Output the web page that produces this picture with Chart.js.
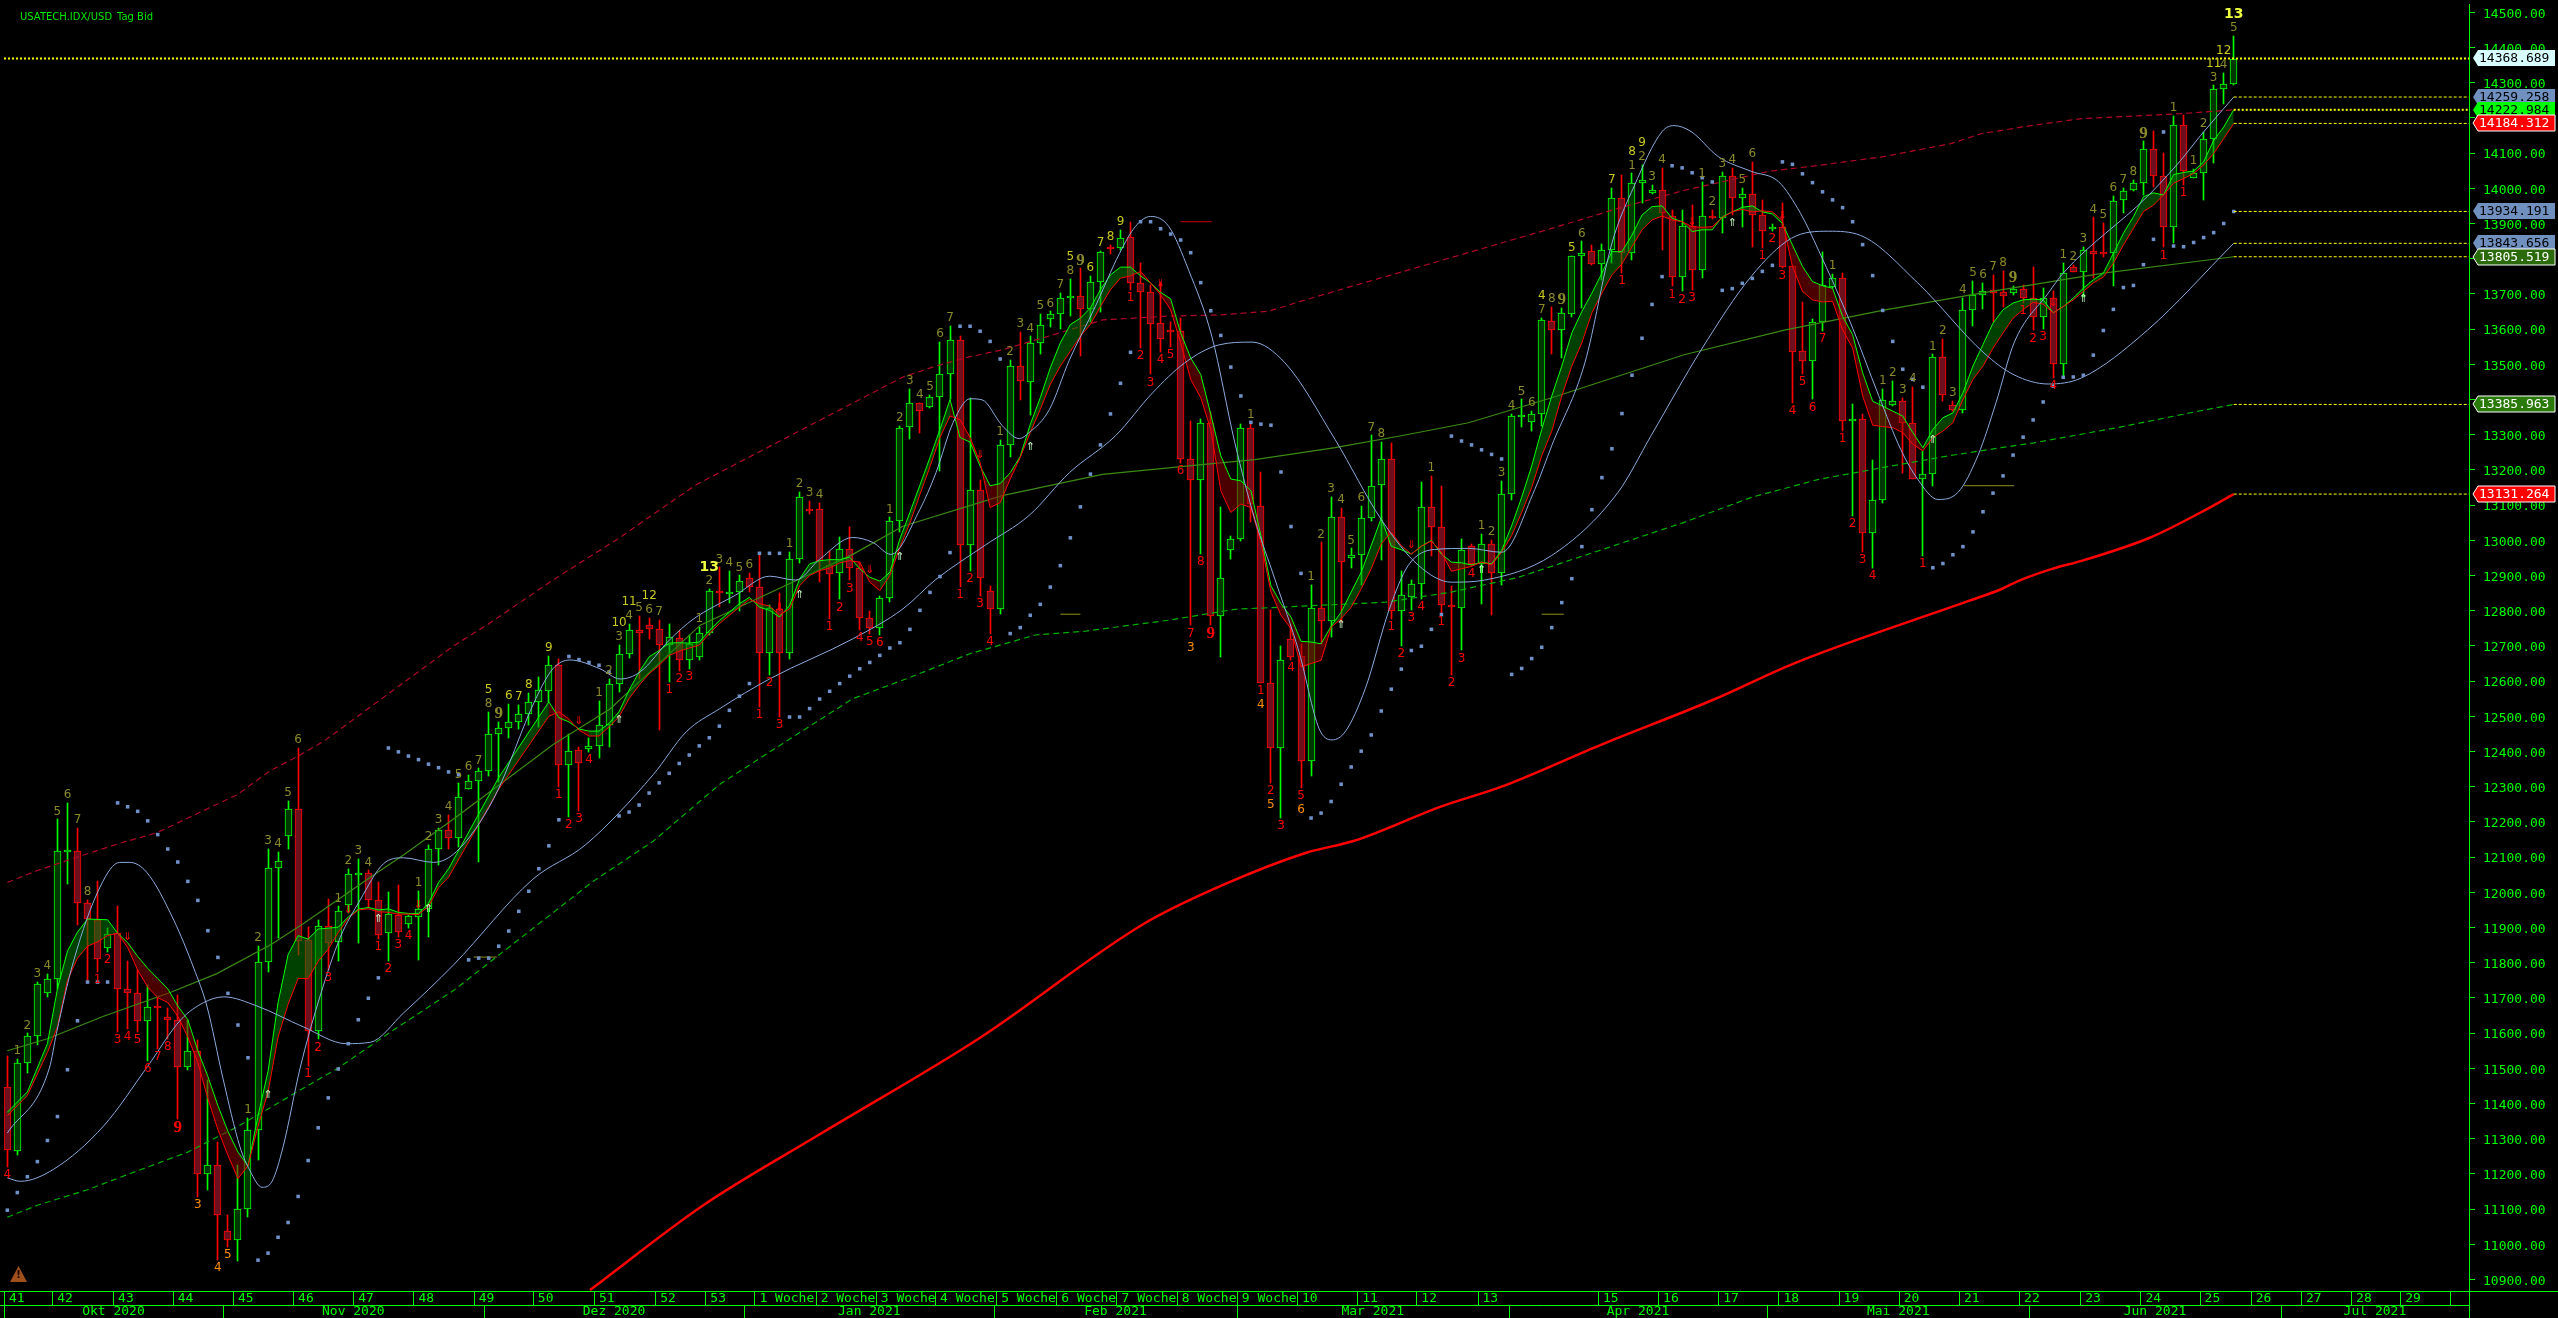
<!DOCTYPE html>
<html>
<head>
<meta charset="utf-8">
<title>USATECH.IDX/USD Tag Bid</title>
<style>
html, body { margin: 0; background: #000; overflow: hidden; }
canvas { display: block; }
</style>
<script src="https://cdn.jsdelivr.net/npm/chart.js@4"></script>
</head>
<body>
<canvas id="priceChart" width="2558" height="1318"></canvas>
<script>
// candles, index = trading day
const opens = [11448,11265,11514,11591,11713,11753,12115,12118,11969,11921,
11843,11884,11725,11713,11633,11677,11647,11638,11503,11549,
11201,11224,11039,11011,11099,11325,11801,12070,12160,12238,
11864,11606,11903,11858,11965,12051,12055,11979,11884,11936,
11909,11931,11954,12124,12177,12154,12293,12316,12345,12449,
12466,12483,12506,12540,12573,12645,12362,12404,12406,12415,
12475,12591,12678,12744,12758,12747,12702,12723,12659,12669,
12738,12857,12849,12852,12893,12866,12681,12804,12681,12947,
13089,13089,12930,12908,12976,12922,12780,12752,12837,13054,
13322,13389,13379,13406,13471,13568,12987,13143,12855,12804,
13271,13495,13451,13560,13630,13642,13687,13693,13658,13735,
13832,13830,13863,13732,13704,13616,13598,13594,13230,13171,
13334,12784,12973,13004,13318,13098,12596,12411,12719,12670,
12373,12809,12770,13067,12951,12959,13064,13158,13231,12798,
12838,12877,13095,13039,12815,12809,12985,12933,12990,12908,
13132,13355,13337,13358,13622,13598,13644,13808,13823,13785,
13825,13973,13817,14016,13986,13996,13922,13749,13893,13769,
13922,13916,14035,13972,13985,13924,13888,13891,13778,13537,
13508,13619,13719,13744,13338,13344,13021,13115,13383,13395,
13333,13174,13188,13520,13385,13370,13655,13696,13710,13704,
13702,13715,13687,13635,13687,13502,13775,13762,13823,13818,
13815,13967,13995,14016,14112,14036,13891,14180,14029,14044,
14140,14282,14296];
const highs = [11535,11526,11599,11745,11767,12207,12254,12184,11979,12031,
11898,11960,11804,11779,11736,11701,11672,11708,11638,11580,
11467,11292,11082,11224,11360,11848,12124,12114,12260,12410,
11901,11921,11981,11960,12067,12096,12062,12030,12002,12020,
11936,12004,12135,12184,12221,12310,12333,12352,12513,12484,
12536,12532,12566,12612,12671,12662,12450,12414,12439,12544,
12607,12703,12763,12784,12779,12773,12761,12742,12730,12755,
12862,12923,12914,12900,12907,12961,12815,12851,12968,13138,
13112,13106,12971,13008,13037,12938,12798,12841,13065,13326,
13430,13391,13414,13563,13608,13579,13405,13172,12870,13285,
13513,13591,13579,13643,13650,13702,13742,13773,13751,13822,
13839,13882,13905,13787,13726,13735,13619,13631,13339,13345,
13364,13096,13011,13331,13334,13194,12801,12700,12763,12706,
12872,12994,13122,13093,12977,13098,13298,13280,13277,12914,
12886,13166,13183,13155,12870,13004,12989,13018,13001,13169,
13358,13400,13367,13631,13663,13660,13809,13849,13839,13842,
14002,14037,14042,14066,14009,14059,13938,13938,13952,14018,
13938,14047,14059,14000,14075,13968,13899,13959,13780,13676,
13629,13820,13756,13759,13386,13360,13228,13430,13452,13405,
13436,13254,13528,13572,13397,13688,13738,13731,13754,13766,
13723,13726,13776,13716,13707,13789,13781,13834,13917,13902,
13978,14002,14023,14133,14162,14101,14206,14209,14054,14160,
14292,14327,14432];
const lows = [11219,11253,11487,11565,11704,11726,12023,11908,11745,11775,
11831,11604,11611,11604,11521,11555,11584,11355,11494,11134,
11155,10955,10993,10953,11077,11240,11775,11870,12123,11821,
11506,11582,11779,11806,11940,11855,11955,11867,11804,11872,
11899,11809,11874,12077,12124,12129,12293,12086,12329,12314,
12439,12464,12475,12470,12541,12300,12215,12231,12398,12382,
12414,12568,12666,12607,12720,12461,12598,12628,12634,12661,
12732,12810,12822,12798,12853,12527,12617,12497,12662,12936,
13076,12881,12777,12832,12886,12746,12735,12732,12824,13023,
13289,13306,13377,13197,13400,12867,12914,12843,12733,12791,
13238,13398,13355,13528,13606,13600,13636,13523,13619,13648,
13813,13825,13710,13546,13471,13535,13549,13219,12758,12961,
12758,12669,12947,12999,13051,12596,12310,12211,12659,12296,
12329,12706,12725,12768,12922,12872,13056,12945,12777,12700,
12801,12834,12956,12791,12618,12687,12928,12820,12788,12874,
13115,13323,13310,13325,13530,13518,13634,13660,13782,13740,
13787,13759,13795,13959,13985,13825,13721,13707,13712,13745,
13913,13874,13924,13889,13832,13830,13880,13773,13389,13473,
13400,13594,13716,13310,13068,12966,12922,13106,13381,13190,
13174,12956,13155,13397,13367,13362,13610,13657,13620,13663,
13697,13674,13596,13601,13461,13461,13762,13691,13745,13804,
13723,13929,13993,13981,14004,13832,13844,14009,14028,13967,
14072,14240,14292];
const closes = [11267,11516,11592,11739,11753,12116,12121,11969,11925,11810,
11882,11725,11713,11633,11675,11672,11636,11504,11549,11201,
11224,11084,11011,11099,11325,11801,12070,12090,12238,11862,
11606,11903,11855,11948,12051,12054,11979,11880,11937,11886,
11932,11953,12124,12177,12154,12270,12316,12345,12450,12467,
12483,12506,12540,12574,12645,12362,12401,12366,12415,12475,
12591,12678,12744,12737,12747,12702,12724,12659,12706,12738,
12857,12849,12852,12883,12866,12681,12807,12681,12947,13124,
13088,12942,12905,12976,12921,12779,12752,12837,13056,13320,
13391,13366,13408,13471,13568,12988,13143,12893,12804,13271,
13495,13452,13560,13611,13642,13687,13693,13658,13735,13820,
13831,13860,13732,13704,13615,13571,13594,13230,13172,13333,
12784,12893,13004,13318,13103,12596,12409,12659,12669,12373,
12809,12770,13067,12937,12959,13064,13155,13231,12798,12845,
12877,13095,13039,12815,12812,12973,12933,12990,12908,13132,
13353,13357,13360,13625,13598,13645,13809,13817,13785,13825,
13973,13817,14016,14024,13996,13929,13749,13894,13769,13922,
13915,14035,13972,13985,13924,13880,13890,13776,13536,13508,
13619,13725,13744,13338,13344,13021,13115,13398,13395,13332,
13174,13188,13520,13414,13370,13655,13696,13709,13703,13695,
13714,13687,13635,13687,13502,13759,13763,13824,13814,13814,
13965,13993,14016,14112,14035,13891,14180,14048,14044,14140,
14282,14296,14367];

// parabolic dots, one per candle
const sarValues = [11097,11147,11192,11235,11295,11363,11496,11635,11745,11745,
11745,12254,12243,12230,12203,12164,12123,12086,12031,11977,
11891,11815,11713,11623,11530,10955,10975,11020,11062,11136,
11238,11331,11416,11498,11570,11638,11699,11757,12410,12399,
12387,12377,12364,12354,12342,12334,11808,11813,11813,11847,
11890,11946,12003,12067,12132,12206,12670,12661,12653,12645,
12626,12217,12228,12248,12282,12311,12338,12366,12390,12416,
12439,12472,12517,12557,12593,12963,12963,12963,12498,12498,
12522,12549,12571,12593,12614,12635,12653,12673,12694,12709,
12747,12801,12852,12897,12965,13608,13608,13594,13565,13515,
12735,12752,12787,12818,12867,12928,13007,13095,13188,13271,
13359,13446,13534,13905,13905,13885,13870,13853,13817,13732,
13652,13582,13492,13410,13335,13330,13327,13194,13039,12906,
12211,12225,12258,12307,12356,12401,12447,12515,12577,12634,
12687,12699,12747,12789,13296,13282,13271,13257,13244,13231,
12619,12636,12664,12696,12752,12823,12891,12982,13087,13178,
13260,13360,13469,13574,13670,13749,14064,14058,14044,14030,
14018,13710,13715,13730,13744,13764,13781,14075,14068,14041,
14016,13990,13967,13945,13905,13840,13752,13653,13565,13486,
13457,13435,12922,12934,12959,12982,13024,13081,13134,13183,
13242,13293,13342,13393,13438,13463,13464,13469,13526,13596,
13656,13718,13724,13783,13855,14160,13836,13834,13846,13860,
13874,13900,13934];

// fast / slow band, read at these candles
const bandK = [0,2,4,5,6,7,8,9,10,11,12,13,14,15,16,17,18,19,20,21,22,23,24,25,26,27,28,29,30,31,32,33,34,35,36,37,38,39,40,41,42,43,44,49,
54,55,56,57,58,59,60,61,62,63,64,65,66,67,68,69,70,71,72,73,74,75,76,77,78,79,80,81,82,83,84,85,86,87,88,89,
90,91,92,93,94,95,96,97,98,99,100,101,102,103,104,105,106,107,108,109,110,111,112,113,114,115,116,117,118,119,120,
121,122,123,124,125,126,127,128,129,130,131,132,133,134,135,136,137,138,139,140,141,142,143,144,145,146,147,148,149,150,151,152,153,
154,155,156,157,158,159,160,161,162,163,164,165,166,167,168,169,170,171,172,173,174,175,176,177,178,179,180,181,182,183,184,185,186,187,188,189,190,191,192,193,194,195,196,
197,198,199,200,201,202,203,204,205,206,207,208,209,210,211,212,213,214,215,216,217,218,219,220,221,222];
const bandFast = [11375,11433,11570,11726,11833,11887,11924,11923,11922,11884,11857,11818,11784,11755,11726,11677,11638,11550,11477,11394,11321,11262,11223,11365,11492,11687,11823,11877,11867,11896,11898,11901,11930,11952,11957,11950,11953,11943,11940,11940,11969,12028,12067,12326,
12541,12496,12484,12464,12458,12458,12480,12513,12574,12626,12669,12687,12708,12709,12708,12711,12744,12772,12796,12820,12838,12810,12801,12782,12815,12890,12933,12942,12945,12945,12952,12919,12895,12884,12909,13004,
13079,13157,13235,13315,13400,13292,13279,13211,13155,13161,13192,13238,13329,13405,13490,13561,13613,13631,13660,13712,13754,13776,13776,13751,13731,13704,13686,13589,13518,13471,13358,
13240,13174,13169,13141,13013,12871,12820,12782,12713,12711,12706,12756,12796,12853,12909,12985,13063,12983,12973,12961,12983,13000,12961,12938,12936,12930,12938,12933,12971,13041,13122,13211,13315,
13410,13495,13589,13650,13702,13759,13820,13820,13867,13924,13948,13950,13915,13905,13877,13882,13882,13919,13933,13946,13950,13933,13927,13900,13839,13778,13735,13723,13716,13636,13584,13476,13395,13381,13367,13353,13306,13263,13315,13348,13362,13419,13495,
13556,13617,13655,13674,13683,13685,13683,13646,13664,13688,13716,13740,13759,13815,13872,13919,13976,13987,13981,14039,14045,14049,14075,14136,14174,14223];
const bandSlow = [11365,11423,11545,11618,11750,11813,11847,11859,11877,11884,11843,11779,11731,11701,11687,11648,11589,11516,11414,11326,11253,11187,11223,11336,11433,11589,11682,11755,11755,11804,11838,11886,11926,11950,11953,11945,11943,11938,11938,11937,11960,12013,12043,12293,
12500,12513,12492,12461,12444,12444,12470,12499,12550,12588,12621,12645,12673,12685,12694,12702,12735,12763,12787,12810,12832,12820,12813,12788,12805,12871,12900,12914,12921,12936,12942,12938,12881,12857,12900,12980,
13049,13130,13209,13292,13353,13343,13292,13221,13093,13107,13174,13235,13306,13372,13443,13495,13537,13580,13613,13664,13712,13745,13751,13764,13731,13697,13655,13561,13457,13405,13315,
13141,13079,13103,13093,12994,12853,12787,12749,12640,12650,12659,12753,12777,12810,12862,12919,12990,13023,12985,12961,12983,12998,12966,12912,12919,12926,12938,12930,12966,13013,13079,13150,13240,
13310,13410,13495,13561,13646,13702,13754,13785,13834,13882,13910,13921,13910,13905,13891,13889,13891,13917,13933,13940,13933,13936,13933,13908,13778,13707,13683,13677,13679,13598,13546,13410,13327,13323,13320,13306,13273,13254,13292,13310,13334,13400,13457,
13495,13546,13589,13631,13655,13676,13671,13646,13664,13683,13707,13731,13748,13787,13839,13886,13934,13952,13981,14014,14028,14042,14066,14099,14141,14184];
const bandRegimeStart = [0,11,24,54,58,84,87,94,101,113,132,140,147,165,171,177,191,204,205];
const bandRegimeEnd = [11,24,54,58,84,87,94,101,113,132,140,147,165,171,177,191,204,205,222];
const bandRegimeUp = [1,0,1,0,1,0,1,0,1,0,1,0,1,0,1,0,1,0,1];

// moving averages and channels
const redMaK = [58.1,69.4,80.8,97,113.3,121.4,129.6,134.4,143,149,158.9,170.1,178.3,195.5,198.8,200.5,203.8,207,213.7,218.7,222];
const redMaV = [10870,11111,11309,11587,11910,12023,12113,12147,12244,12300,12419,12547,12652,12827,12861,12884,12918,12943,13008,13079,13131.264];
const upperK = [0,3,7.6,11.3,14.9,18.9,22.9,26.2,28.8,31.5,44.5,47.8,54.4,61.1,64.4,68.7,89.3,92.6,95.9,99.2,104.2,109.2,115.8,120.8,125.8,129.1,134.1,139,154,160.6,167.2,175.6,180.6,187.1,193.8,196.8,201.8,206.8,216.7,222];
const upperV = [12028,12062,12106,12140,12169,12223,12277,12345,12384,12428,12700,12759,12887,13008,13074,13158,13464,13495,13521,13541,13583,13626,13637,13640,13651,13680,13722,13762,13886,13943,13994,14048,14065,14090,14127,14155,14178,14198,14212,14223];
const lowerK = [0,3,8,13,18,23,28,33,38,44.5,58.4,64.4,71,77.6,84.3,89.6,95.9,102.5,107.5,115.8,122.4,129.1,137.4,144,150.7,159.7,167.2,173.9,180.6,187.1,193.8,198.8,202.1,210.4,218.7,222];
const lowerV = [11077,11111,11155,11209,11262,11335,11418,11501,11599,11721,12031,12145,12306,12428,12550,12606,12677,12731,12742,12773,12804,12813,12824,12853,12895,12980,13051,13122,13173,13207,13241,13263,13277,13320,13368,13385.963];
const midK = [0,4,9.6,16.3,20.9,26.3,29.5,36.2,39.5,44.5,49.5,54.4,60.1,69.1,78.3,84.3,89.3,99.2,109.2,119.1,124.4,132.4,139,145.7,154,167.2,177.2,187.1,196.8,209,222];
const midV = [11550,11584,11648,11716,11769,11852,11911,12043,12106,12208,12315,12419,12521,12759,12881,12960,13040,13127,13187,13215,13229,13263,13297,13334,13405,13527,13597,13654,13702,13759,13805.519];
const slowK = [0,1.3,4.6,9.6,14,17.3,19.6,21.6,24.9,29.5,33.8,36.2,39.5,44.5,52.4,57.7,64.4,67.7,71,76,84.3,89.3,92.6,97.5,101.9,105.9,110.5,114.2,117.4,120.8,124.1,127.4,132.4,137,140.7,144,147.3,154,160.6,163.9,168.9,173.9,177.9,181.6,184.8,190.5,197.1,200.1,203.5,206.8,213.4,222];
const slowV = [11189,11179,11213,11336,11506,11638,11687,11703,11677,11618,11570,11574,11657,11794,12037,12136,12334,12456,12521,12606,12720,12805,12889,12986,13071,13192,13297,13419,13504,13555,13563,13504,13286,13059,12929,12881,12887,12957,13136,13297,13541,13750,13858,13878,13866,13731,13532,13470,13444,13461,13597,13843.656];
const fastK = [0,4.2,4.9,6.6,9.3,11.2,12.2,13.9,16.6,18.6,19.9,21.5,23.2,24.2,25.4,26.4,27.5,29.2,31.2,33.2,35.2,37.5,39.5,42.5,44.8,48.5,52.7,54.4,56.1,59.1,61.1,63.1,66.1,68.4,72.6,76,78.6,81,84.3,86.3,88.1,91,92.6,94.3,96,97.2,99.2,100.9,101.9,103.9,105.9,108.5,110.9,112.5,114,115.8,117.8,120.1,122.4,124.4,126.4,128.8,130.8,132.1,133.4,135.4,137.8,139.7,142.3,145.7,149,152.3,154,157.3,160,162.2,165,166.2,167.9,170.6,173.9,176.6,178.8,180.6,183.8,186.6,188.8,190.5,192.5,194.5,196.5,198.3,200.1,203.5,205,213.4,216.7,218.7,222];
const fastV = [11316,11501,11599,11804,12018,12085,12085,12057,11921,11784,11677,11472,11277,11209,11162,11179,11277,11501,11706,11872,11979,12081,12098,12085,12116,12266,12550,12635,12660,12635,12606,12626,12719,12776,12844,12898,12887,12946,13008,12994,12960,13088,13192,13334,13402,13399,13326,13289,13306,13371,13512,13665,13815,13892,13920,13892,13767,13580,13277,13059,12889,12683,12465,12433,12456,12578,12804,12929,12974,12977,12966,13144,13269,13504,13844,14005,14161,14178,14161,14090,14048,14019,13929,13824,13617,13411,13258,13173,13116,13136,13241,13391,13561,13702,13759,13977,14079,14150,14259.258];

// short horizontal markers
const markerFrom = [46.5,105,153,195.1,117];
const markerTo = [48.8,107,155.2,200.1,120.1];
const markerValue = [11816,12790,12790,13155,13905];
const markerColor = ['#909020','#909020','#909020','#909020','#d00000'];

// price tags at the right edge
const levelValues = [14368.689,14259.258,14222.984,14184.312,13934.191,13843.656,13805.519,13385.963,13131.264];
const levelBg = ['#d8ffff','#7090c0','#00ff00','#ff0000','#7090c0','#7090c0','#2a6a0a','#2a7a0a','#ff0000'];
const levelFg = ['#000','#000','#000','#fff','#000','#000','#fff','#fff','#fff'];
const levelEdge = [0,0,0,1,0,0,1,1,1];
const levelThick = [1,0,1,0,0,0,0,0,0];

const priceTicks = [14500,14400,14300,14200,14100,14000,13900,13800,13700,13600,13500,13400,13300,13200,13100,13000,12900,12800,12700,12600,12500,12400,12300,12200,12100,12000,11900,11800,11700,11600,11500,11400,11300,11200,11100,11000,10900];

// count labels over the candles
const countUpK = [1,2,3,4,5,6,7,8,24,25,26,27,28,29,33,34,35,36,41,42,43,44,45,46,47,48,49,59,60,61,62,63,64,65,69,70,71,72,73,74,78,79,80,81,88,89,90,91,92,93,94,99,100,101,102,103,104,105,106,107,124,130,131,132,133,134,135,136,137,142,147,148,149,150,151,152,153,154,155,157,162,163,164,165,169,170,171,172,173,174,182,187,188,189,190,192,193,194,195,196,197,198,199,200,205,206,207,208,209,210,211,212,213,216,218,219,220,221,222];
const countUpText = ['1','2','3','4','5','6','7','8','1','2','3','4','5','6','1','2','3','4','1','2','3','4','5','6','7','8','9','1','2','3','4','5','6','7','1','2','3','4','5','6','1','2','3','4','1','2','3','4','5','6','7','1','2','3','4','5','6','7','8','9','1','1','2','3','4','5','6','7','8','1','1','2','3','4','5','6','7','8','9','6','1','2','3','4','1','2','3','4','5','6','1','1','2','3','4','1','2','3','4','5','6','7','8','9','1','2','3','4','5','6','7','8','9','1','1','2','3','4','5'];
const countHotK = [48,50,51,52,54,61,62,64,70,106,108,109,110,111,153,156,160,162,163,220,221,222];
const countHotText = ['5','6','7','8','9','10','11','12','13','5','6','7','8','9','4','5','7','8','9','11','12','13'];
const countHotRow = [1,0,0,0,0,1,1,1,1,1,0,0,0,0,1,0,0,1,1,1,1,1];
const countDownK = [0,9,10,11,12,13,14,15,16,17,30,31,32,37,38,39,40,55,56,57,58,66,67,68,75,76,77,82,83,84,85,86,87,95,96,97,98,112,113,114,115,116,117,118,119,120,125,126,127,128,129,138,139,140,141,143,144,145,146,161,166,167,168,175,176,177,178,179,180,181,183,184,185,186,191,201,202,203,204,215,217];
const countDownText = ['4','1','2','3','4','5','6','7','8','9','1','2','3','1','2','3','4','1','2','3','4','1','2','3','1','2','3','1','2','3','4','5','6','1','2','3','4','1','2','3','4','5','6','7','8','9','1','2','3','4','5','1','2','3','4','1','2','3','4','1','1','2','3','1','2','3','4','5','6','7','1','2','3','4','1','1','2','3','4','1','1'];
const countOrangeK = [19,21,22,118,125,126,129];
const countOrangeText = ['3','4','5','3','4','5','6'];
const countOrangeRow = [0,0,0,1,1,1,1];
const bigNineK = [17,49,107,120,155,200,213];

// small arrows
const arrowUpK = [26,37,42,61,79,89,102,133,147,172,192,207];
const arrowUpV = [11423,11923,11953,12489,12845,12952,13266,12758,12916,13902,13284,13685];
const arrowDownK = [12,34,41,57,77,86,97,115,140,168,177,204];
const arrowDownV = [11872,11948,11964,12487,12807,12914,13242,13728,12985,13905,13922,13674];

// bottom axis, positions in candle units
const weekK = [-0.33,4.48,10.55,16.5,22.5,28.5,34.5,40.5,46.5,52.4,58.5,64.6,69.6,74.5,80.6,86.6,92.5,98.6,104.6,110.6,116.6,122.6,128.6,134.6,140.5,146.6,158.6,164.6,170.6,176.6,182.6,188.6,194.6,200.6,206.7,212.7,218.6,223.7,228.7,233.7,238.6,243.6];
const weekText = ['41','42','43','44','45','46','47','48','49','50','51','52','53','1 Woche','2 Woche','3 Woche','4 Woche','5 Woche','6 Woche','7 Woche','8 Woche','9 Woche','10','11','12','13','15','16','17','18','19','20','21','22','23','24','25','26','27','28','29',''];
const monthK = [-0.33,21.5,47.5,73.5,98.4,122.6,149.7,175.5,201.6,226.7,245.46];
const monthText = ['Okt 2020','Nov 2020','Dez 2020','Jan 2021','Feb 2021','Mär 2021','Apr 2021','Mai 2021','Jun 2021','Jul 2021'];

const GREEN = '#00ff00';
const RED = '#ff0000';
const MONO = '13px "DejaVu Sans Mono", monospace';

function pts(xs, ys) {
    return xs.map((x, i) => ({ x: x, y: ys[i] }));
}

function lineSet(xs, ys, color, width, dash, order, smooth) {
    return {
        type: 'line', data: pts(xs, ys), borderColor: color, borderWidth: width,
        borderDash: dash, pointRadius: 0, fill: false, order: order,
        cubicInterpolationMode: smooth ? 'monotone' : 'default', tension: 0
    };
}

const isUp = closes.map((c, i) => c >= opens[i]);
const datasets = [];

// wicks and bodies are floating bars
datasets.push({
    type: 'bar', order: 20, barThickness: 1, borderWidth: 0,
    data: highs.map((h, i) => ({ x: i, y: [lows[i], h] })),
    backgroundColor: isUp.map(u => u ? GREEN : RED)
});
datasets.push({
    type: 'bar', order: 19, barThickness: 7, borderWidth: 1, borderSkipped: false,
    data: opens.map((o, i) => ({ x: i, y: [o, closes[i]] })),
    backgroundColor: isUp.map(u => u ? '#003800' : '#6e0f1e'),
    borderColor: isUp.map(u => u ? GREEN : RED)
});

// band pieces, green going up and red going down
bandRegimeStart.forEach((start, r) => {
    const keep = bandK.map((k, i) => i).filter(i => bandK[i] >= start && bandK[i] <= bandRegimeEnd[r]);
    const fillColor = bandRegimeUp[r] ? 'rgba(0,128,0,0.5)' : 'rgba(150,0,0,0.5)';
    datasets.push({
        type: 'line', order: 10, pointRadius: 0, borderColor: GREEN, borderWidth: 1, tension: 0,
        data: keep.map(i => ({ x: bandK[i], y: bandFast[i] })),
        fill: { target: '+1', above: fillColor, below: fillColor }
    });
    datasets.push({
        type: 'line', order: 9, pointRadius: 0, borderColor: RED, borderWidth: 1, tension: 0, fill: false,
        data: keep.map(i => ({ x: bandK[i], y: bandSlow[i] }))
    });
});

datasets.push(lineSet(upperK, upperV, '#b00828', 1.2, [6, 4], 12));
datasets.push(lineSet(lowerK, lowerV, '#00b000', 1.2, [6, 4], 12));
datasets.push(lineSet(midK, midV, '#3c8a14', 1.2, [], 12));
datasets.push(lineSet(slowK, slowV, '#8aaadc', 1, [], 6, true));
datasets.push(lineSet(fastK, fastV, '#8aaadc', 1, [], 6, true));
datasets.push(lineSet(redMaK, redMaV, RED, 2.5, [], 5, true));

// parabolic dots
datasets.push({
    type: 'line', order: 4, showLine: false, pointStyle: 'rect', pointRadius: 2.5, pointBorderWidth: 0,
    pointBackgroundColor: '#7090c8', data: sarValues.map((v, i) => ({ x: i, y: v }))
});

markerValue.forEach((v, i) => {
    datasets.push(lineSet([markerFrom[i], markerTo[i]], [v, v], markerColor[i], 1, [], 8));
});

// dotted level lines out to the axis
levelValues.forEach((v, i) => {
    const from = i === 0 ? -0.33 : 222;
    datasets.push(lineSet([from, 245.46], [v, v], '#ffff00', levelThick[i] ? 2 : 1, levelThick[i] ? [2, 2] : [3, 2], 3));
});

// keep candles on whole pixels, the original is not antialiased
const snapBars = {
    id: 'snapBars',
    afterDatasetsUpdate(chart) {
        [0, 1].forEach(idx => {
            chart.getDatasetMeta(idx).data.forEach(el => {
                el.x = Math.floor(el.x) + 0.5;
                el.y = Math.round(el.y);
                el.base = Math.round(el.base);
                if (Math.abs(el.base - el.y) < 2) el.base = el.y + 2;
            });
        });
    }
};

function drawLabel(ctx, text, x, y, color, font) {
    ctx.fillStyle = color;
    ctx.font = font;
    ctx.fillText(text, x, y);
}

const annotations = {
    id: 'annotations',
    afterDatasetsDraw(chart) {
        const ctx = chart.ctx, xs = chart.scales.x, ys = chart.scales.y;
        ctx.save();
        ctx.textAlign = 'center';
        ctx.textBaseline = 'middle';
        const smallFont = '12px "DejaVu Sans", sans-serif';
        const nineFont = 'bold 17px "Liberation Serif", serif';
        countUpK.forEach((k, i) => {
            const big = bigNineK.includes(k) && countUpText[i] === '9';
            drawLabel(ctx, countUpText[i], xs.getPixelForValue(k), ys.getPixelForValue(highs[k]) - 8, '#8a8a2a', big ? nineFont : smallFont);
        });
        countHotK.forEach((k, i) => {
            const big = countHotText[i] === '13';
            drawLabel(ctx, countHotText[i], xs.getPixelForValue(k), ys.getPixelForValue(highs[k]) - 8 - countHotRow[i] * 14,
                big ? '#f0ff40' : '#c8c820', big ? 'bold 14px "DejaVu Sans", sans-serif' : smallFont);
        });
        countDownK.forEach((k, i) => {
            const big = bigNineK.includes(k) && countDownText[i] === '9';
            drawLabel(ctx, countDownText[i], xs.getPixelForValue(k), ys.getPixelForValue(lows[k]) + 8, RED, big ? nineFont : smallFont);
        });
        countOrangeK.forEach((k, i) => {
            drawLabel(ctx, countOrangeText[i], xs.getPixelForValue(k), ys.getPixelForValue(lows[k]) + 8 + countOrangeRow[i] * 14, '#ff8c00', smallFont);
        });
        const arrowFont = '11px "DejaVu Sans", sans-serif';
        arrowUpK.forEach((k, i) => {
            drawLabel(ctx, '⇑', xs.getPixelForValue(k), ys.getPixelForValue(arrowUpV[i]), '#c8ffc8', arrowFont);
        });
        arrowDownK.forEach((k, i) => {
            drawLabel(ctx, '⇓', xs.getPixelForValue(k), ys.getPixelForValue(arrowDownV[i]), RED, arrowFont);
        });
        ctx.restore();
    },
    afterDraw(chart) {
        const ctx = chart.ctx, xs = chart.scales.x, ys = chart.scales.y;
        const right = chart.chartArea.right, axisTop = chart.chartArea.bottom;
        ctx.save();

        // title
        ctx.textAlign = 'left';
        ctx.textBaseline = 'middle';
        drawLabel(ctx, 'USATECH.IDX/USD', 20, 17.5, '#00e800', '10px "DejaVu Sans", sans-serif');
        drawLabel(ctx, 'Tag Bid', 117, 17.5, '#00e800', '10px "DejaVu Sans", sans-serif');

        // warning triangle
        ctx.fillStyle = '#a0501a';
        ctx.beginPath();
        ctx.moveTo(18.5, 1266);
        ctx.lineTo(27, 1282);
        ctx.lineTo(10, 1282);
        ctx.closePath();
        ctx.fill();
        ctx.textAlign = 'center';
        drawLabel(ctx, '!', 18.5, 1275.5, '#200800', 'bold 11px "DejaVu Sans", sans-serif');

        // week and month rows
        ctx.strokeStyle = GREEN;
        ctx.lineWidth = 1;
        ctx.beginPath();
        ctx.moveTo(0, axisTop + 0.5); ctx.lineTo(2558, axisTop + 0.5);
        ctx.moveTo(0, axisTop + 14.5); ctx.lineTo(right, axisTop + 14.5);
        ctx.moveTo(right + 0.5, axisTop); ctx.lineTo(right + 0.5, 1318);
        weekK.forEach(k => {
            const px = Math.round(xs.getPixelForValue(k)) + 0.5;
            ctx.moveTo(px, axisTop); ctx.lineTo(px, axisTop + 14);
        });
        monthK.forEach(k => {
            const px = Math.round(xs.getPixelForValue(k)) + 0.5;
            ctx.moveTo(px, axisTop + 14); ctx.lineTo(px, 1318);
        });
        ctx.stroke();
        ctx.textAlign = 'left';
        weekText.forEach((t, i) => {
            drawLabel(ctx, t, xs.getPixelForValue(weekK[i]) + 5, axisTop + 8, GREEN, MONO);
        });
        ctx.textAlign = 'center';
        monthText.forEach((t, i) => {
            const mid = (xs.getPixelForValue(monthK[i]) + xs.getPixelForValue(monthK[i + 1])) / 2;
            drawLabel(ctx, t, mid, axisTop + 21, GREEN, MONO);
        });

        // price tags
        ctx.textAlign = 'left';
        levelValues.forEach((v, i) => {
            const y = Math.round(ys.getPixelForValue(v));
            ctx.beginPath();
            ctx.moveTo(2473, y);
            ctx.lineTo(2478, y - 8);
            ctx.lineTo(2555, y - 8);
            ctx.lineTo(2555, y + 8);
            ctx.lineTo(2478, y + 8);
            ctx.closePath();
            ctx.fillStyle = levelBg[i];
            ctx.fill();
            if (levelEdge[i]) {
                ctx.strokeStyle = '#fff';
                ctx.lineWidth = 1;
                ctx.stroke();
            }
            drawLabel(ctx, v.toFixed(3), 2479, y + 1, levelFg[i], MONO);
        });
        ctx.restore();
    }
};

const priceCtx = document.getElementById('priceChart').getContext('2d');
const priceChart = new Chart(priceCtx, {
    type: 'bar',
    data: { datasets: datasets },
    plugins: [snapBars, annotations],
    options: {
        responsive: false,
        devicePixelRatio: 1,
        animation: false,
        events: [],
        layout: { padding: { left: 0, right: 0, top: 0, bottom: 27 } },
        datasets: { bar: { grouped: false } },
        plugins: { legend: { display: false }, tooltip: { enabled: false }, title: { display: false } },
        scales: {
            x: {
                type: 'linear', display: false, offset: false,
                min: -0.3285, max: 245.46
            },
            y: {
                type: 'linear', position: 'right',
                min: 10867.4, max: 14523.5,
                grid: { drawOnChartArea: false, color: GREEN, tickLength: 6 },
                border: { display: true, color: GREEN },
                afterBuildTicks: scale => { scale.ticks = priceTicks.map(v => ({ value: v })); },
                afterFit: scale => { scale.width = 89; scale.paddingTop = 0; scale.paddingBottom = 0; },
                ticks: {
                    color: GREEN, padding: 8, labelOffset: 2, autoSkip: false, align: 'center',
                    font: { family: '"DejaVu Sans Mono", monospace', size: 13 },
                    callback: v => Number(v).toFixed(2)
                }
            }
        }
    }
});
</script>
</body>
</html>
